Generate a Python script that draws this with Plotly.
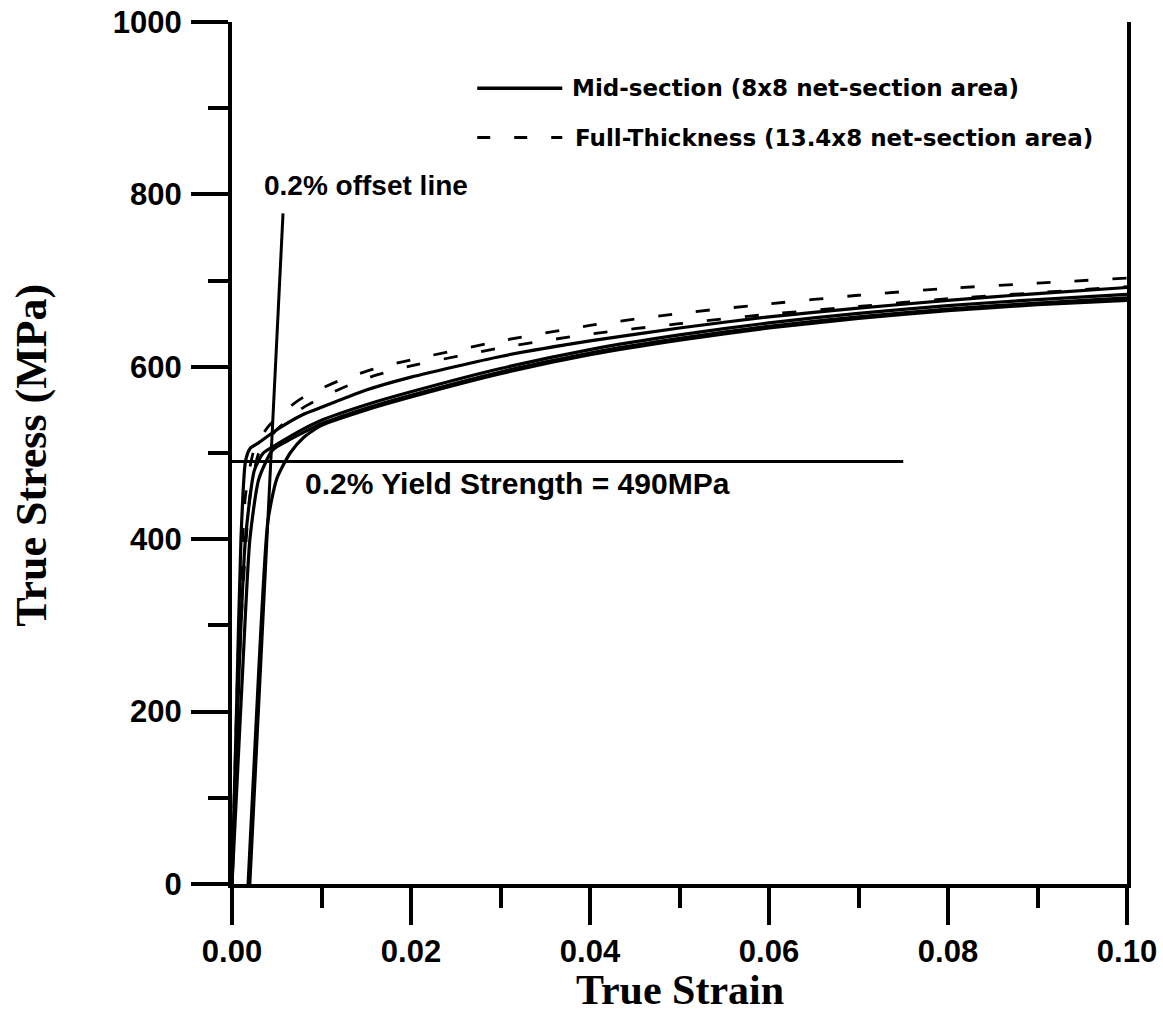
import plotly.graph_objects as go

# ---- Mid-section specimens (8x8 net-section area) ----
mid1_strain = [0, 0.0005, 0.001, 0.0015, 0.002, 0.003, 0.005, 0.008, 0.01, 0.015, 0.02, 0.03, 0.04, 0.05, 0.06, 0.07, 0.08, 0.09, 0.1]
mid1_stress = [0, 200, 400, 490, 505, 512, 527, 545, 553, 573, 588, 612, 630, 645, 658, 668, 677, 685, 692]

mid2_strain = [0, 0.0008, 0.0015, 0.0025, 0.0035, 0.005, 0.008, 0.01, 0.015, 0.02, 0.03, 0.04, 0.05, 0.06, 0.07, 0.08, 0.09, 0.1]
mid2_stress = [0, 250, 400, 480, 500, 510, 528, 538, 556, 571, 598, 620, 637, 651, 662, 671, 678, 684]

mid3_strain = [0, 0.0012, 0.002, 0.003, 0.0045, 0.006, 0.008, 0.01, 0.015, 0.02, 0.03, 0.04, 0.05, 0.06, 0.07, 0.08, 0.09, 0.1]
mid3_stress = [0, 250, 400, 470, 503, 513, 524, 534, 552, 567, 594, 616, 633, 647, 658, 667, 674, 680]

mid4_strain = [0.0018, 0.003, 0.004, 0.005, 0.0065, 0.008, 0.01, 0.015, 0.02, 0.03, 0.04, 0.05, 0.06, 0.07, 0.08, 0.09, 0.1]
mid4_stress = [0, 250, 420, 470, 500, 518, 532, 550, 565, 592, 614, 631, 645, 656, 665, 672, 677]

# ---- Full-thickness specimens (13.4x8 net-section area) ----
full1_strain = [0, 0.0008, 0.0015, 0.0025, 0.004, 0.006, 0.008, 0.012, 0.016, 0.02, 0.03, 0.04, 0.05, 0.06, 0.07, 0.08, 0.09, 0.1]
full1_stress = [0, 300, 450, 505, 530, 550, 565, 584, 598, 608, 630, 648, 662, 673, 683, 691, 697, 703]

full2_strain = [0, 0.001, 0.002, 0.003, 0.005, 0.008, 0.012, 0.016, 0.02, 0.03, 0.04, 0.05, 0.06, 0.07, 0.08, 0.09, 0.1]
full2_stress = [0, 300, 450, 500, 527, 553, 574, 590, 601, 622, 638, 650, 661, 670, 679, 686, 693]

# ---- 0.2% offset construction ----
offset_strain = [0.002, 0.0057]
offset_stress = [0, 778]
yield_strength = 490
yield_line_strain = [0, 0.075]

x_ticks = [0, 0.02, 0.04, 0.06, 0.08, 0.1]
x_tick_labels = ["0.00", "0.02", "0.04", "0.06", "0.08", "0.10"]
y_ticks = [0, 200, 400, 600, 800, 1000]
y_tick_labels = ["0", "200", "400", "600", "800", "1000"]

SANS = "Liberation Sans"
SERIF = "Liberation Serif"

fig = go.Figure()

solid = dict(color="black", width=3.2)
dashed = dict(color="black", width=2.8, dash="14px,24px")

for sx, sy in [(mid1_strain, mid1_stress), (mid2_strain, mid2_stress),
               (mid3_strain, mid3_stress), (mid4_strain, mid4_stress)]:
    fig.add_trace(go.Scatter(x=sx, y=sy, mode="lines", line=dict(solid, shape="spline", smoothing=0.6),
                             showlegend=False, hoverinfo="skip"))

for sx, sy in [(full1_strain, full1_stress), (full2_strain, full2_stress)]:
    fig.add_trace(go.Scatter(x=sx, y=sy, mode="lines", line=dict(dashed, shape="spline", smoothing=0.6),
                             showlegend=False, hoverinfo="skip"))

# offset line and yield level
fig.add_trace(go.Scatter(x=offset_strain, y=offset_stress, mode="lines",
                         line=dict(color="black", width=3), showlegend=False, hoverinfo="skip"))
fig.add_trace(go.Scatter(x=yield_line_strain, y=[yield_strength, yield_strength], mode="lines",
                         line=dict(color="black", width=3), showlegend=False, hoverinfo="skip"))

# legend drawn by hand: sample lines + labels
fig.add_shape(type="line", x0=0.0274, x1=0.0369, y0=923, y1=923, xref="x", yref="y",
              line=dict(color="black", width=3.5))
fig.add_shape(type="line", x0=0.0274, x1=0.0369, y0=866, y1=866, xref="x", yref="y",
              line=dict(color="black", width=3, dash="13px,24px"))
fig.add_annotation(x=0.0378, y=923, xref="x", yref="y", xanchor="left", yanchor="middle",
                   text="Mid-section (8x8 net-section area)", showarrow=False,
                   font=dict(family="DejaVu Sans", size=23, color="black", weight="bold"))
fig.add_annotation(x=0.0381, y=866, xref="x", yref="y", xanchor="left", yanchor="middle",
                   text="Full-Thickness (13.4x8 net-section area)", showarrow=False,
                   font=dict(family="DejaVu Sans", size=23, color="black", weight="bold"))

fig.add_annotation(x=0.00335, y=810, xref="x", yref="y", xanchor="left", yanchor="middle",
                   text="0.2% offset line", showarrow=False,
                   font=dict(family=SANS, size=28, color="black", weight="bold"))
fig.add_annotation(x=0.0079, y=465, xref="x", yref="y", xanchor="left", yanchor="middle",
                   text="0.2% Yield Strength = 490MPa", showarrow=False,
                   font=dict(family=SANS, size=30, color="black", weight="bold"))

# axis titles
fig.add_annotation(x=0.5, y=-0.123, xref="paper", yref="paper", xanchor="center", yanchor="middle",
                   text="True Strain", showarrow=False,
                   font=dict(family=SERIF, size=42, color="black", weight="bold"))
fig.add_annotation(x=-0.2235, y=0.498, xref="paper", yref="paper", xanchor="center", yanchor="middle",
                   text="True Stress (MPa)", showarrow=False, textangle=-90,
                   font=dict(family=SERIF, size=44, color="black", weight="bold"))

axis_common = dict(showline=True, linecolor="black", linewidth=4, ticks="outside",
                   ticklen=37, tickwidth=4, tickcolor="black", showgrid=False, zeroline=False,
                   automargin=False,
                   tickfont=dict(family=SANS, size=31, color="black", weight="bold"))

fig.update_xaxes(range=[0, 0.1], tickvals=x_ticks, ticktext=x_tick_labels, ticklabelstandoff=0,
                 minor=dict(ticks="outside", ticklen=20, tickwidth=4, tickcolor="black", dtick=0.01, showgrid=False),
                 **axis_common)
fig.update_yaxes(range=[0, 1000], tickvals=y_ticks, ticktext=y_tick_labels, mirror=True,
                 ticklabelstandoff=3,
                 minor=dict(ticks="outside", ticklen=20, tickwidth=4, tickcolor="black", dtick=100, showgrid=False),
                 **axis_common)

fig.update_layout(width=1163, height=1023, margin=dict(l=232, r=36, t=22, b=139),
                  plot_bgcolor="white", paper_bgcolor="white", showlegend=False)

fig.write_html("out.html")
